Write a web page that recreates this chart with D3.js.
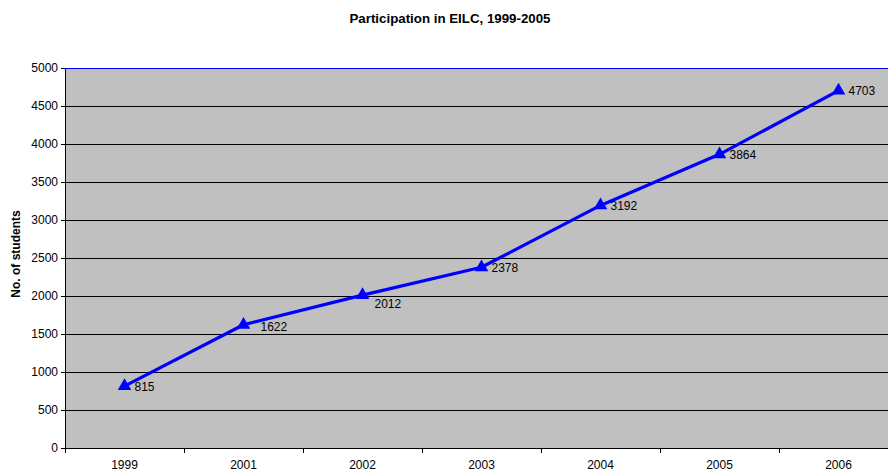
<!DOCTYPE html>
<html><head><meta charset="utf-8">
<script src="https://cdn.jsdelivr.net/npm/d3@7"></script>
<style>body{margin:0;background:#fff}svg{display:block;font-family:"Liberation Sans",Arial,sans-serif}</style>
</head><body><svg id="c" width="888" height="470"></svg>
<script>
const years = ["1999","2001","2002","2003","2004","2005","2006"];
const students = [815,1622,2012,2378,3192,3864,4703];
const yTicks = [0,500,1000,1500,2000,2500,3000,3500,4000,4500,5000];
const title = "Participation in EILC, 1999-2005";
const yTitle = "No. of students";

// label nudges (px) to mimic the reference's overlap-avoiding placement
const nudge = {"2001":[17,6],"2002":[12,13]};

const svg = d3.select("#c");
const L = 65, T = 68, B = 448, bw = 119, R = L + bw*years.length;
const x = d3.scaleBand().domain(years).range([L, R]).padding(0);
const y = d3.scaleLinear().domain([0,5000]).range([B, T]);

svg.append("rect").attr("x",L).attr("y",T).attr("width",R-L).attr("height",B-T).attr("fill","#c0c0c0");
svg.append("g").selectAll("line").data(yTicks.filter(d=>d>0&&d<5000)).join("line")
  .attr("x1",L).attr("x2",R).attr("y1",d=>y(d)).attr("y2",d=>y(d)).attr("stroke","#000").attr("stroke-width",1).attr("shape-rendering","crispEdges");
svg.append("line").attr("x1",L).attr("x2",R).attr("y1",T).attr("y2",T).attr("stroke","#0000ff").attr("shape-rendering","crispEdges");

const yAxis = svg.append("g").attr("transform",`translate(${L},0)`)
  .call(d3.axisLeft(y).tickValues(yTicks).tickSize(4).tickPadding(3).tickFormat(d3.format("d")));
yAxis.select(".domain").attr("stroke","#000").attr("shape-rendering","crispEdges");
yAxis.selectAll("line").attr("shape-rendering","crispEdges");
yAxis.selectAll("text").attr("font-size",12).attr("fill","#000").attr("font-family","Liberation Sans, Arial, sans-serif");

const xb = svg.append("g").attr("transform",`translate(0,${B})`);
xb.append("line").attr("x1",L).attr("x2",R).attr("stroke","#000").attr("shape-rendering","crispEdges");
xb.selectAll("line.t").data(d3.range(years.length+1)).join("line").attr("class","t")
  .attr("x1",i=>L+i*bw).attr("x2",i=>L+i*bw).attr("y1",0).attr("y2",5).attr("stroke","#000").attr("shape-rendering","crispEdges");
xb.selectAll("text").data(years).join("text")
  .attr("x",d=>x(d)+x.bandwidth()/2).attr("y",20.5).attr("text-anchor","middle").attr("font-size",12).text(d=>d);

const cx = (d,i)=>x(years[i])+x.bandwidth()/2;
svg.append("path").datum(students)
  .attr("d", d3.line().x(cx).y(d=>y(d)))
  .attr("fill","none").attr("stroke","#0000ff").attr("stroke-width",3.2).attr("stroke-linejoin","round");
svg.append("g").selectAll("path").data(students).join("path")
  .attr("d", d3.symbol(d3.symbolTriangle, 80))
  .attr("transform",(d,i)=>`translate(${cx(d,i)},${y(d)})`).attr("fill","#0000ff");
svg.append("g").selectAll("text").data(students).join("text")
  .attr("x",(d,i)=>cx(d,i)+(nudge[years[i]]?nudge[years[i]][0]:10))
  .attr("y",(d,i)=>y(d)+(nudge[years[i]]?nudge[years[i]][1]:4.5))
  .attr("font-size",12).text(d=>d);

svg.append("text").attr("x",450).attr("y",23).attr("text-anchor","middle").attr("font-size",13.3).attr("font-weight","bold").text(title);
svg.append("text").attr("transform",`translate(20,${(T+B)/2-4}) rotate(-90)`).attr("text-anchor","middle").attr("font-size",12).attr("font-weight","bold").text(yTitle);
</script></body></html>
